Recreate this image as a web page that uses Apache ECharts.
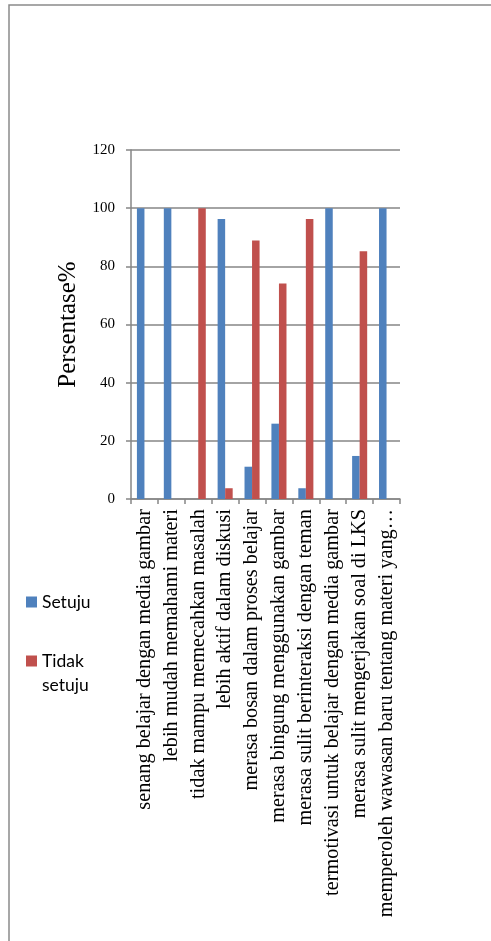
<!DOCTYPE html>
<html>
<head>
<meta charset="utf-8">
<script src="https://cdn.jsdelivr.net/npm/echarts@6/dist/echarts.min.js"></script>
<style>
html,body{margin:0;padding:0;background:#fff;}
#chart{width:491px;height:941px;}
</style>
</head>
<body>
<div id="chart"></div>
<script>
const categories = [
  "senang belajar dengan media gambar",
  "lebih mudah memahami materi",
  "tidak mampu memecahkan masalah",
  "lebih aktif dalam diskusi",
  "merasa bosan dalam proses belajar",
  "merasa bingung menggunakan gambar",
  "merasa sulit berinteraksi dengan teman",
  "termotivasi untuk belajar dengan media gambar",
  "merasa sulit mengerjakan soal di LKS",
  "memperoleh wawasan baru tentang materi yang…"
];
const setuju = [100, 100, 0, 96.3, 11.1, 25.9, 3.7, 100, 14.8, 100];
const tidakSetuju = [0, 0, 100, 3.7, 88.9, 74.1, 96.3, 0, 85.2, 0];
const yTicks = [0, 20, 40, 60, 80, 100, 120];
const seriesNames = ["Setuju", "Tidak setuju"];
const yTitle = "Persentase%";

const chart = echarts.init(document.getElementById('chart'), null, {renderer: 'canvas'});
const serif = '"Liberation Serif", "Times New Roman", serif';
chart.setOption({
  animation: false,
  backgroundColor: '#fff',
  graphic: [{
    type: 'rect', silent: true,
    shape: {x: 9, y: 5, width: 520, height: 980},
    style: {fill: 'none', stroke: '#8a8a8a', lineWidth: 1.5}
  }],
  legend: {
    orient: 'vertical',
    left: 26, top: 590,
    padding: 0,
    itemWidth: 11, itemHeight: 11,
    itemGap: 11,
    icon: 'rect',
    data: seriesNames,
    formatter: name => {
      // wrap like the reference: the icon sits beside the first line
      const parts = name.split(' ');
      return parts.length > 1 ? ' \n' + parts.join('\n') : name;
    },
    textStyle: {
      fontFamily: 'Lato, "Open Sans", sans-serif',
      fontSize: 17.5, color: '#000', lineHeight: 24
    }
  },
  grid: {left: 131, top: 150, right: 91, bottom: 442, containLabel: false},
  xAxis: {
    type: 'category',
    data: categories,
    axisLine: {lineStyle: {color: '#868686', width: 1.5}},
    axisTick: {show: true, length: 5, lineStyle: {color: '#868686', width: 1.5}},
    axisLabel: {
      rotate: 90, interval: 0, margin: 10,
      fontFamily: serif, fontSize: 20.3, color: '#000'
    }
  },
  yAxis: {
    type: 'value',
    min: 0, max: 120, interval: 20,
    name: yTitle,
    nameLocation: 'middle',
    nameRotate: 90,
    nameGap: 50,
    nameTextStyle: {fontFamily: serif, fontSize: 25, color: '#000'},
    axisLine: {show: true, lineStyle: {color: '#868686', width: 1.5}},
    axisTick: {show: true, length: 5, lineStyle: {color: '#868686', width: 1.5}},
    splitLine: {lineStyle: {color: '#868686', width: 1.5}},
    axisLabel: {
      margin: 16, fontFamily: serif, fontSize: 15, color: '#000',
      formatter: v => yTicks.includes(v) ? String(v) : ''
    }
  },
  series: [
    {name: seriesNames[0], type: 'bar', data: setuju, barGap: '0%', barCategoryGap: '44%',
     itemStyle: {color: '#4F81BD'}},
    {name: seriesNames[1], type: 'bar', data: tidakSetuju, barGap: '0%', barCategoryGap: '44%',
     itemStyle: {color: '#C0504D'}}
  ]
});
</script>
</body>
</html>
